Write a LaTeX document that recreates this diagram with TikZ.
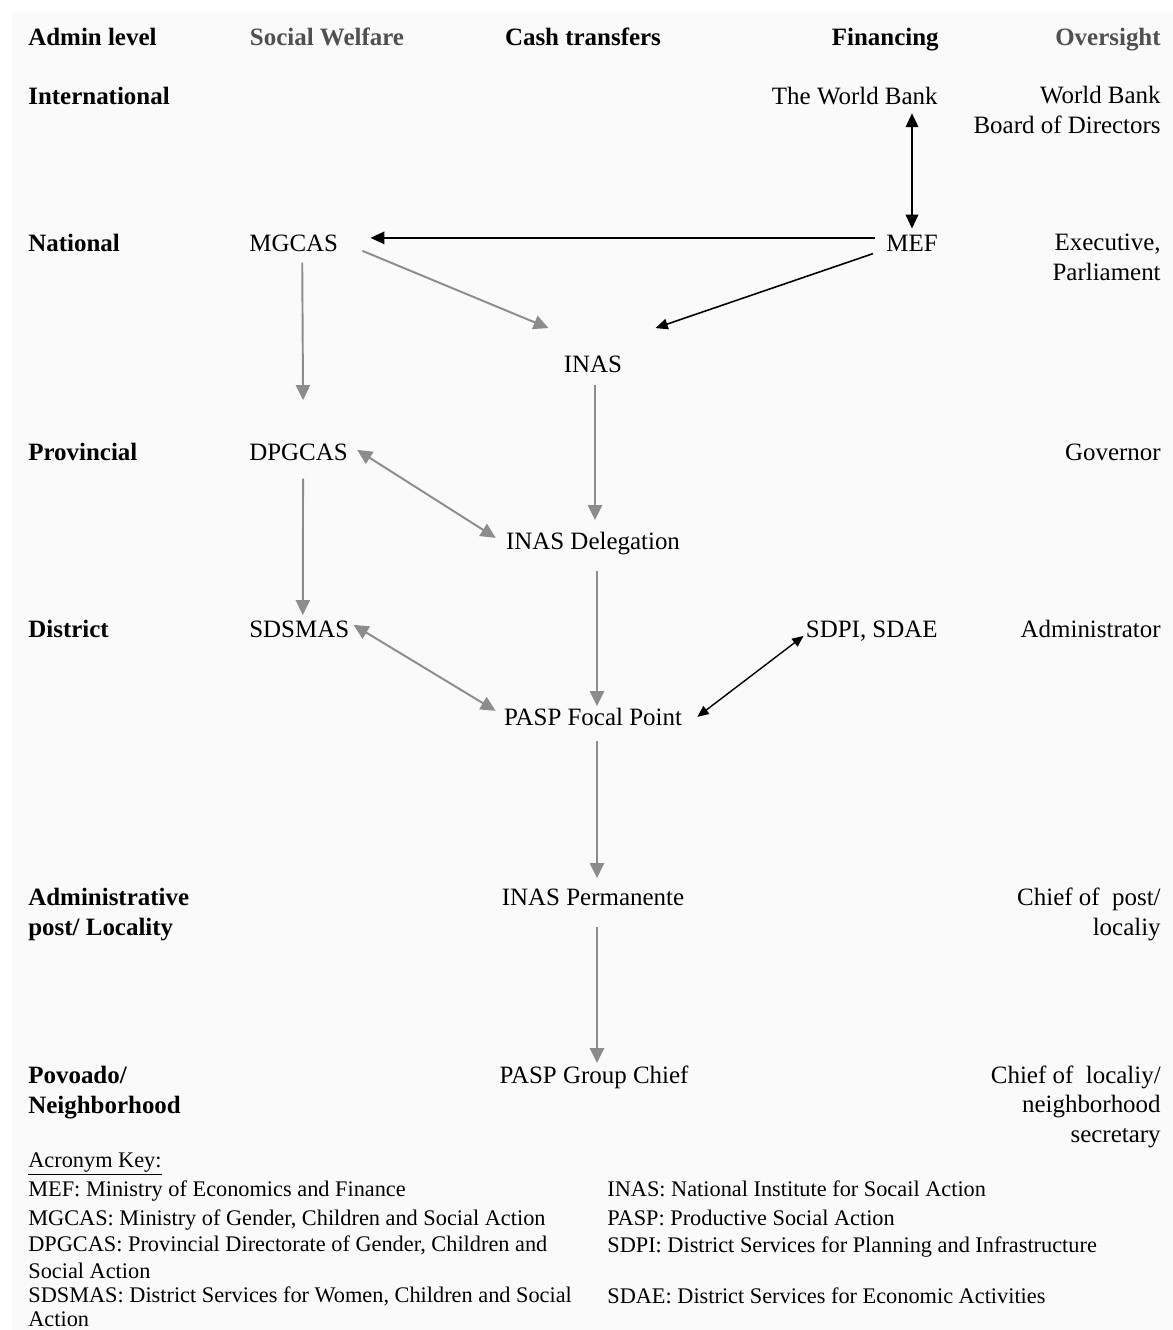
\documentclass[tikz,border=0pt]{standalone}
\usepackage{fontspec}
\setmainfont{Liberation Serif}
\usetikzlibrary{arrows.meta, calc, positioning}
\definecolor{ArrowGray}{RGB}{140,140,140}
\definecolor{HeadGray}{RGB}{80,80,80}
\definecolor{PaperGray}{RGB}{250,250,250}

\begin{document}
\begin{tikzpicture}[x=0.02cm, y=-0.02cm,
    txt/.style={inner sep=0pt, font=\fontsize{14.2pt}{16.6pt}\selectfont},
    unit/.style={txt, text height=10pt, text depth=3pt},
    lvl/.style={inner sep=0pt, font=\fontsize{14.2pt}{16.8pt}\selectfont\bfseries, align=left, anchor=base west},
    col/.style={inner sep=0pt, font=\fontsize{14.2pt}{16.8pt}\selectfont\bfseries, anchor=base},
    over/.style={txt, align=right, anchor=base east},
    key/.style={inner sep=0pt, font=\fontsize{12.7pt}{15pt}\selectfont, align=left, anchor=base west},
    gflow/.style={ArrowGray, line width=1.1pt, -{Triangle[length=8.5pt,width=8pt]}},
    gboth/.style={ArrowGray, line width=1.1pt, {Triangle[length=8.5pt,width=8pt]}-{Triangle[length=8.5pt,width=8pt]}},
    bflow/.style={black, line width=1.4pt, -{Triangle[length=8pt,width=7pt]}},
    bboth/.style={black, line width=1.4pt, {Triangle[length=8pt,width=7pt]}-{Triangle[length=8pt,width=7pt]}},
    thin/.style={black, line width=0.8pt, {Triangle[length=6.5pt,width=5.5pt]}-{Triangle[length=6.5pt,width=5.5pt]}}
]
    % page and grey sheet
    \useasboundingbox (0,0) rectangle (1173,1330);
    \fill[white] (0,0) rectangle (1173,1330);
    \fill[PaperGray] (12,12) rectangle (1173,1330);

    % column heads
    \node[col, anchor=base west] (hAdmin) at (28,45) {Admin level};
    \node[col, text=HeadGray] (hWelfare) at (327,45) {Social Welfare};
    \node[col] (hCash) at (583,45) {Cash transfers};
    \node[col, anchor=base east] (hFin) at (939,45) {Financing};
    \node[col, anchor=base east, text=HeadGray] (hOver) at (1161,45) {Oversight};

    % admin levels (multi-line ones sit on their last line)
    \node[lvl] (lInt) at (28,104) {International};
    \node[lvl] (lNat) at (28,251) {National};
    \node[lvl] (lProv) at (28,460) {Provincial};
    \node[lvl] (lDist) at (28,637) {District};
    \node[lvl] (lPost) at (28,935) {Administrative\\post/ Locality};
    \node[lvl] (lPov) at (28,1113) {Povoado/\\Neighborhood};

    % actors
    \node[unit, anchor=base east] (wb) at (938,104) {The World Bank};
    \node[unit, anchor=base west] (mg) at (249,251) {MGCAS};
    \node[unit, anchor=base] (mef) at (912,251) {MEF};
    \node[unit, anchor=base] (inas) at (593,372) {INAS};
    \node[unit, anchor=base west] (dp) at (249,460) {DPGCAS};
    \node[unit, anchor=base] (del) at (593,549) {INAS Delegation};
    \node[unit, anchor=base west] (sd) at (249,637) {SDSMAS};
    \node[unit, anchor=base east] (sdpi) at (938,637) {SDPI, SDAE};
    \node[unit, anchor=base] (pfp) at (593,725) {PASP Focal Point};
    \node[unit, anchor=base] (perm) at (593,905) {INAS Permanente};
    \node[unit, anchor=base] (chief) at (594,1083) {PASP Group Chief};

    % oversight
    \node[over] (oInt) at (1161,133) {World Bank\\Board of Directors};
    \node[over] (oNat) at (1161,280) {Executive,\\Parliament};
    \node[over] (oProv) at (1161,460) {Governor};
    \node[over] (oDist) at (1161,637) {Administrator};
    \node[over] (oPost) at (1161,935) {Chief of\ \ post/\\localiy};
    \node[over] (oPov) at (1161,1142) {Chief of\ \ localiy/\\neighborhood\\secretary};

    % links
    \draw[bboth, shorten <=2pt, shorten >=2.5pt] (mef.north |- wb.south) -- (mef.north);
    \draw[bflow] ($(mef.west)+(-11,-7)$) -- ($(mg.east)+(32,-7)$);
    \draw[bflow, line width=0.9pt, -{Triangle[length=7pt,width=6pt]}] ($(mef.south west)+(-13,-3)$) -- ($(inas.north east)+(33,-26)$);
    \draw[gflow] ($(mg.east)+(24,6)$) -- ($(inas.north west)+(-15,-26)$);
    \draw[gflow] ($(mg.south)+(8.5,6)$) -- ($(dp.north)+(4.5,-42)$);
    \draw[gflow] ($(inas.south)+(2,7)$) -- ($(del.north)+(2,-11)$);
    \draw[gboth] ($(dp.east)+(9,-4)$) -- ($(del.west)+(-10,-5)$);
    \draw[gflow] ($(dp.south)+(4.5,13)$) -- ($(sd.north)+(3.5,-4)$);
    \draw[gflow] ($(del.south)+(4,16)$) -- ($(pfp.north)+(4,-1)$);
    \draw[gboth] ($(sd.east)+(4,-6)$) -- ($(pfp.west)+(-8,-8)$);
    \draw[thin] ($(sdpi.west)+(-2,5)$) -- ($(pfp.east)+(15,-2)$);
    \draw[gflow] ($(pfp.south)+(4,10)$) -- ($(perm.north)+(4,-9)$);
    \draw[gflow] ($(perm.south)+(4,16)$) -- ($(chief.north)+(3,-2)$);

    % acronym key
    \node[key] (kTitle) at (28,1167) {\underline{Acronym Key:}};
    \node[key] (kMef) at (28,1196) {MEF: Ministry of Economics and Finance};
    \node[key] (kMg) at (28,1225) {MGCAS: Ministry of Gender, Children and Social Action};
    \node[key, font=\fontsize{12.7pt}{15.3pt}\selectfont] (kDp) at (28,1278) {DPGCAS: Provincial Directorate of Gender, Children and\\Social Action};
    \node[key, font=\fontsize{12.7pt}{13.4pt}\selectfont] (kSd) at (28,1326) {SDSMAS: District Services for Women, Children and Social\\Action};
    \node[key] (kInas) at (607,1196) {INAS: National Institute for Socail Action};
    \node[key] (kPasp) at (607,1225) {PASP: Productive Social Action};
    \node[key] (kSdpi) at (607,1252) {SDPI: District Services for Planning and Infrastructure};
    \node[key] (kSdae) at (607,1303) {SDAE: District Services for Economic Activities};
\end{tikzpicture}
\end{document}
